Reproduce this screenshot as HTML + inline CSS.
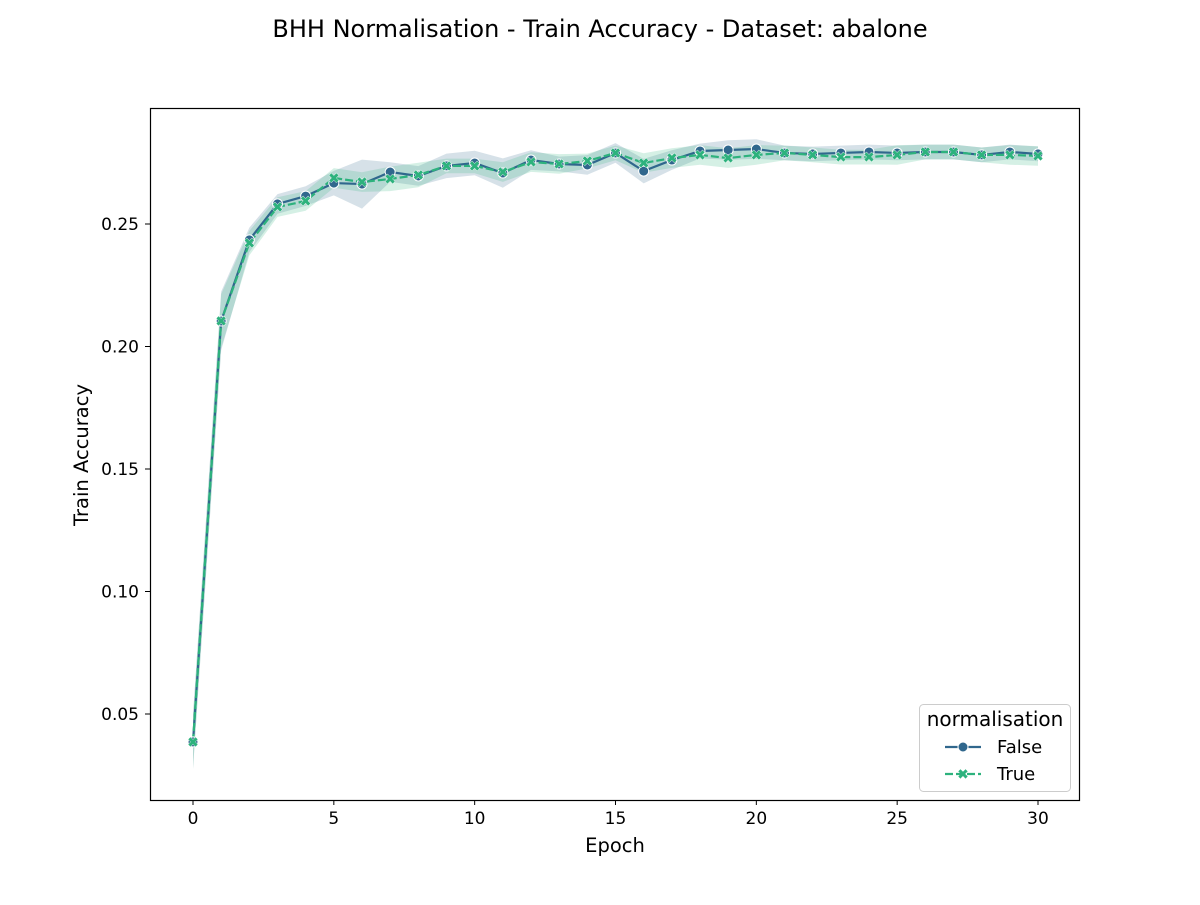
<!DOCTYPE html>
<html><head><meta charset="utf-8"><style>
body{margin:0;background:#fff;font-family:"Liberation Sans","DejaVu Sans",sans-serif}
svg text{font-family:"DejaVu Sans","Liberation Sans",sans-serif;fill:#000}
</style></head><body>
<svg id="chart" width="1200" height="900" xmlns="http://www.w3.org/2000/svg">
<rect width="1200" height="900" fill="#fff"/>
<text x="600" y="37" font-size="24" text-anchor="middle">BHH Normalisation - Train Accuracy - Dataset: abalone</text>
<g id="bands"></g><g id="lines"></g><g id="marks"></g>
<rect x="150.5" y="108.5" width="929" height="692" fill="none" stroke="#000" stroke-width="1.2"/>
<g id="xt"></g><g id="yt"></g>
<text x="615" y="852" font-size="19.5" text-anchor="middle">Epoch</text>
<text transform="translate(88,455) rotate(-90)" font-size="19.5" text-anchor="middle">Train Accuracy</text>
<g>
<rect x="919.5" y="704.5" width="151" height="87" rx="4" fill="#fff" fill-opacity="0.8" stroke="#ccc"/>
<text x="995" y="726" font-size="20" text-anchor="middle">normalisation</text>
<g><line x1="945" y1="747" x2="981" y2="747" stroke="#30678d" stroke-width="2.2"/><circle cx="963" cy="747" r="5" fill="#30678d" stroke="#fff"/><text x="997" y="753" font-size="18">False</text></g>
<g><line x1="945" y1="774" x2="981" y2="774" stroke="#2db27d" stroke-width="2.2" stroke-dasharray="8,3"/><text x="963" y="779" font-size="14" font-weight="bold" text-anchor="middle" style="fill:#2db27d">✖</text><text x="997" y="780" font-size="18">True</text></g>
</g>
</svg>
<script>
const epochs=[0,1,2,3,4,5,6,7,8,9,10,11,12,13,14,15,16,17,18,19,20,21,22,23,24,25,26,27,28,29,30];
const falseVals=[0.0386,0.2104,0.2435,0.2582,0.2614,0.2667,0.2663,0.2712,0.2696,0.2737,0.2749,0.2708,0.2761,0.2745,0.2741,0.2790,0.2716,0.2761,0.2798,0.2802,0.2806,0.2790,0.2786,0.2790,0.2794,0.2790,0.2794,0.2794,0.2782,0.2794,0.2786];
const trueVals=[0.0386,0.2104,0.2422,0.2569,0.2594,0.2688,0.2671,0.2684,0.2700,0.2737,0.2737,0.2712,0.2753,0.2745,0.2757,0.2790,0.2749,0.2769,0.2782,0.2769,0.2782,0.2790,0.2782,0.2773,0.2773,0.2782,0.2794,0.2794,0.2782,0.2782,0.2778];
const falseErr=[0.011,0.012,0.005,0.004,0.004,0.005,0.010,0.004,0.004,0.005,0.005,0.006,0.004,0.003,0.004,0.004,0.005,0.004,0.003,0.004,0.004,0.003,0.003,0.003,0.003,0.003,0.003,0.003,0.003,0.003,0.003];
const trueErr=[0.011,0.011,0.005,0.004,0.004,0.004,0.004,0.005,0.005,0.003,0.003,0.004,0.004,0.004,0.003,0.003,0.004,0.004,0.004,0.004,0.004,0.003,0.003,0.003,0.003,0.004,0.003,0.003,0.003,0.004,0.004];
const xTicks=[0,5,10,15,20,25,30];
const yTicks=[0.05,0.10,0.15,0.20,0.25];
const X=v=>193+v*(1038-193)/30;
const Y=v=>224+(0.25-v)*2450;
const NS='http://www.w3.org/2000/svg';
function mk(tag,parent,attrs){const e=document.createElementNS(NS,tag);for(const k in attrs)e.setAttribute(k,attrs[k]);document.getElementById(parent).appendChild(e);return e;}
function band(vals,err,color,name){
 let up=epochs.map((e,i)=>X(e)+','+Y(vals[i]+err[i]));
 let dn=epochs.map((e,i)=>X(e)+','+Y(vals[i]-err[i])).reverse();
 const p=mk('polygon','bands',{points:up.concat(dn).join(' '),fill:color,'fill-opacity':0.2});
 
 
}
band(falseVals,falseErr,'#30678d','ci-band-false');
band(trueVals,trueErr,'#2db27d','ci-band-true');
const lf=mk('polyline','lines',{points:epochs.map((e,i)=>X(e)+','+Y(falseVals[i])).join(' '),fill:'none',stroke:'#30678d','stroke-width':2.2});


const lt=mk('polyline','lines',{points:epochs.map((e,i)=>X(e)+','+Y(trueVals[i])).join(' '),fill:'none',stroke:'#2db27d','stroke-width':2.2,'stroke-dasharray':'8,3'});


epochs.forEach((e,i)=>{
 const c=mk('circle','marks',{cx:X(e),cy:Y(falseVals[i]),r:5,fill:'#30678d',stroke:'#fff','stroke-width':1});
 
 
});
epochs.forEach((e,i)=>{
 const t=mk('text','marks',{x:X(e),y:Y(trueVals[i])+5,'font-size':14,'font-weight':'bold','text-anchor':'middle',style:'fill:#2db27d;stroke:#fff;stroke-width:0.6;paint-order:stroke'});
 t.textContent='✖';
 
 
});
xTicks.forEach(v=>{
 const l=mk('line','xt',{x1:X(v),x2:X(v),y1:800,y2:805,stroke:'#000'});
 
 
 const t=mk('text','xt',{x:X(v),y:824,'font-size':17,'text-anchor':'middle'});
 t.textContent=v;
 
 
});
yTicks.forEach(v=>{
 const l=mk('line','yt',{x1:145,x2:150,y1:Y(v),y2:Y(v),stroke:'#000'});
 
 
 const t=mk('text','yt',{x:139,y:Y(v)+6,'font-size':17,'text-anchor':'end'});
 t.textContent=v.toFixed(2);
 
 
});
</script>
</body></html>
